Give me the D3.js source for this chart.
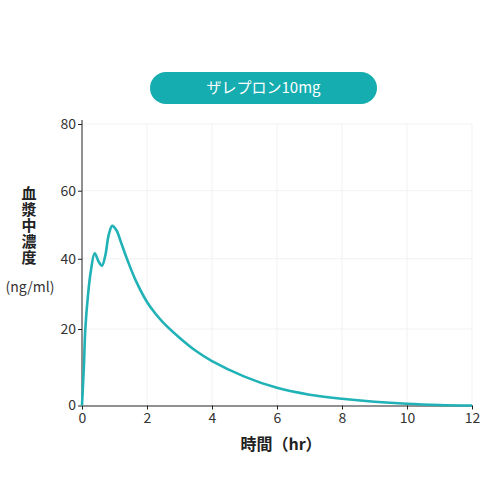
<!DOCTYPE html>
<html>
<meta charset="utf-8">
<head>
<style>
body { margin: 0; background: #fff; }
text { font-family: "Noto Sans CJK JP", "Noto Sans", sans-serif; }
.axis path, .axis line { stroke: #222; }
.axis text { fill: #333; font-size: 14px; }
.grid line { stroke: #f2f2f2; }
</style>
</head>
<body>
<svg width="500" height="500"></svg>

<script src="https://cdn.jsdelivr.net/npm/d3@7"></script>
<script>

// data
var hours = [0, 0.06, 0.1, 0.185, 0.27, 0.39, 0.51, 0.615, 0.72, 0.82, 0.93, 1.055, 1.21, 1.415, 1.67, 2, 2.25, 2.5, 3, 3.5, 4, 5, 6, 7, 8, 9, 10, 11, 12];
var conc  = [0, 10.2, 19.7, 29.6, 36.3, 41.6, 39.2, 38.0, 41.1, 46.9, 49.6, 48.4, 44.5, 39.2, 33.4, 27.6, 24.4, 21.8, 17.6, 14.0, 11.2, 7.1, 4.2, 2.5, 1.5, 0.8, 0.35, 0.1, 0];
var xTicks = [0, 2, 4, 6, 8, 10, 12];
var yTicks = [0, 20, 40, 60, 80];
var title = "ザレプロン10mg";

var svg = d3.select("svg");

var x = d3.scaleLinear().domain([0, 12]).range([82, 472]);
// the reference's y axis is slightly compressed toward the top
var y = d3.scalePow().exponent(0.94).domain([0, 80]).range([405.5, 124]);

// grid
var grid = svg.append("g").attr("class", "grid");
grid.selectAll(".gx")
    .data(xTicks.slice(1))
    .enter().append("line")
      .attr("x1", function(d) { return x(d); })
      .attr("x2", function(d) { return x(d); })
      .attr("y1", y(80))
      .attr("y2", y(0));
grid.selectAll(".gy")
    .data(yTicks.slice(1))
    .enter().append("line")
      .attr("x1", x(0))
      .attr("x2", x(12))
      .attr("y1", function(d) { return y(d); })
      .attr("y2", function(d) { return y(d); });

// axes
svg.append("g")
    .attr("class", "axis")
    .attr("transform", "translate(0," + y(0) + ")")
    .call(d3.axisBottom(x).tickValues(xTicks).tickSize(4).tickSizeOuter(0).tickPadding(4));

var yAxis = svg.append("g")
    .attr("class", "axis")
    .attr("transform", "translate(" + x(0) + ",0)")
    .call(d3.axisLeft(y).tickValues(yTicks).tickSize(4).tickSizeOuter(0).tickPadding(2));
yAxis.select(".domain").attr("d", "M0," + (y(80) - 4) + "V" + y(0));

// curve
var line = d3.line()
    .x(function(d, i) { return x(hours[i]); })
    .y(function(d) { return y(Math.max(0, d)); })
    .curve(d3.curveCatmullRom.alpha(0.5));

svg.append("path")
    .datum(conc)
    .attr("fill", "none")
    .attr("stroke", "#20b2b6")
    .attr("stroke-width", 2.6)
    .attr("d", line);

// title pill
svg.append("rect")
    .attr("x", 150)
    .attr("y", 72)
    .attr("width", 227)
    .attr("height", 32)
    .attr("rx", 16)
    .attr("fill", "#16adb1");
svg.append("text")
    .attr("x", 263.5)
    .attr("y", 88)
    .attr("dy", "0.36em")
    .attr("text-anchor", "middle")
    .attr("fill", "#fff")
    .style("font-size", "15px")
    .text(title);

// y label (vertical)
svg.append("text")
    .attr("x", 29)
    .attr("y", 226)
    .attr("text-anchor", "middle")
    .attr("fill", "#222")
    .style("writing-mode", "vertical-rl")
    .style("font-size", "15px")
    .style("font-weight", "bold")
    .style("letter-spacing", "1px")
    .text("血漿中濃度");

svg.append("text")
    .attr("x", 30)
    .attr("y", 287)
    .attr("dy", "0.36em")
    .attr("text-anchor", "middle")
    .attr("fill", "#333")
    .style("font-size", "14px")
    .text("(ng/ml)");

// x label
svg.append("text")
    .attr("x", 281)
    .attr("y", 444)
    .attr("dy", "0.36em")
    .attr("text-anchor", "middle")
    .attr("fill", "#222")
    .style("font-size", "16px")
    .style("font-weight", "bold")
    .text("時間（hr）");

</script>
</body>
</html>
